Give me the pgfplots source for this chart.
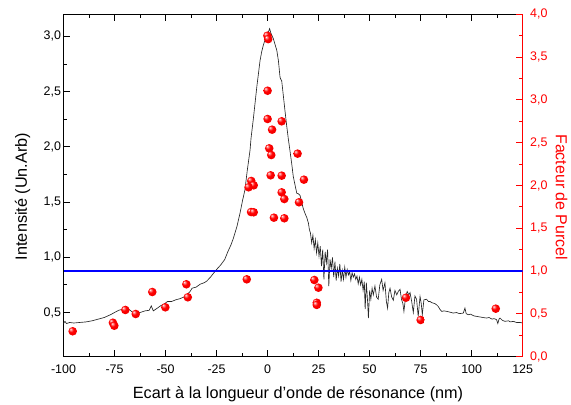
\documentclass[border=0pt]{standalone}
\usepackage{pgfplots}
\pgfplotsset{compat=1.18}
\usepackage{pgfplotstable}
\usepackage{fontspec}
\setmainfont{Liberation Sans}
\pgfdeclareradialshading{redballsh}{\pgfqpoint{-13bp}{13bp}}{%
 color(0bp)=(white); color(5bp)=(red!45!white); color(14bp)=(red); color(34bp)=(red!92!black); color(50bp)=(red!72!black)}
\pgfdeclareplotmark{redball}{%
  \pgfpathcircle{\pgfpointorigin}{\pgfplotmarksize}%
  \pgfshadepath{redballsh}{0}%
  \pgfusepath{}%
}

\pgfplotstableread{
x y
-100 0.40
-99.3 0.42
-98.5 0.40
-97 0.41
-95 0.405
-92 0.41
-89 0.415
-86 0.425
-83 0.44
-80 0.455
-77 0.48
-75 0.50
-73 0.52
-71 0.53
-69.5 0.52
-68 0.53
-66 0.50
-64 0.495
-62.5 0.50
-60 0.515
-58 0.52
-57 0.56
-56 0.515
-54 0.54
-52.5 0.56
-50.5 0.58
-49 0.60
-47 0.60
-45 0.615
-43 0.625
-41 0.64
-40 0.65
-38 0.69
-37 0.72
-35 0.73
-33 0.757
-31 0.77
-29.8 0.785
-28 0.82
-26.3 0.86
-24.5 0.90
-23 0.93
-21 0.98
-19.5 1.05
-18 1.11
-16.8 1.17
-15 1.28
-13.5 1.40
-12.2 1.52
-11.1 1.61
-10 1.78
-8.6 1.97
-8.1 2.08
-7 2.25
-6 2.42
-5.3 2.54
-4.5 2.66
-3.7 2.78
-2.9 2.86
-2.1 2.92
-1.2 2.97
-0.4 3.01
0.4 3.04
1.0 3.07
1.6 3.03
2.8 2.98
3.6 2.93
4.5 2.875
5.3 2.78
6.1 2.63
6.5 2.61
6.9 2.60
7.5 2.50
8.5 2.33
9.3 2.20
10.1 2.08
11 1.96
11.8 1.85
12.6 1.73
13.5 1.65
14.3 1.58
15.1 1.575
15.9 1.56
16.7 1.50
17.5 1.44
18.3 1.40
19.2 1.36
20.0 1.31
20.5 1.25
21.0 1.22
21.6 1.13
22.2 1.20
22.8 1.08
23.4 1.16
24.0 1.04
24.6 1.13
25.2 1.01
25.8 1.10
26.4 0.92
27.0 1.07
27.6 0.80
28.2 1.05
28.8 0.95
29.4 1.07
30.0 0.74
30.6 0.98
31.2 0.90
31.8 1.00
32.4 0.82
33.0 0.96
33.6 0.79
34.2 0.90
34.8 0.83
35.4 0.94
36.0 0.78
36.6 0.88
37.2 0.80
37.8 0.91
38.4 0.82
39.0 0.89
39.6 0.84
40.2 0.87
40.8 0.79
41.4 0.86
42.0 0.82
42.6 0.85
43.2 0.80
43.8 0.83
44.4 0.76
45.0 0.82
45.6 0.75
46.2 0.80
46.8 0.70
47.4 0.78
47.8 0.53
48.4 0.77
49.0 0.60
49.4 0.45
50.0 0.70
50.6 0.62
51.2 0.72
51.8 0.66
52.6 0.74
53.4 0.64
54.2 0.62
55.0 0.75
55.9 0.80
56.6 0.70
57.5 0.77
58.2 0.60
58.8 0.54
59.4 0.68
60.0 0.72
60.8 0.64
61.6 0.61
62.4 0.70
63.3 0.66
64.0 0.69
64.9 0.71
65.6 0.62
66.3 0.58
66.8 0.51
67.6 0.64
68.4 0.69
69.2 0.66
69.8 0.68
70.6 0.60
71.4 0.50
72.2 0.65
73.0 0.62
73.8 0.465
74.7 0.645
75.3 0.58
75.8 0.48
76.6 0.615
77.9 0.62
78.8 0.60
79.6 0.60
80.4 0.59
81.2 0.585
82.0 0.58
82.8 0.57
83.6 0.555
84.4 0.53
85.3 0.51
86.5 0.515
87.8 0.51
89.0 0.505
90.0 0.50
91.0 0.495
92.5 0.50
94.0 0.49
95.9 0.495
96.7 0.54
97.3 0.49
98.3 0.48
99.5 0.485
101 0.47
102.4 0.465
104 0.46
105.5 0.455
107.3 0.45
108.5 0.455
110 0.44
111 0.445
112.2 0.435
112.8 0.40
113.4 0.44
113.9 0.45
115 0.43
116.3 0.42
118 0.425
119 0.415
120.4 0.42
122 0.41
123.7 0.41
125 0.405
}\spectrum

\pgfplotstableread{
x y
-95.5 0.297
-75.8 0.397
-75.1 0.362
-69.7 0.546
-64.6 0.499
-56.5 0.756
-50.1 0.577
-39.8 0.846
-39.1 0.694
-10.2 0.904
-0.1 3.75
0.3 3.71
0.0 3.107
0.0 2.777
6.9 2.75
2.2 2.652
0.8 2.434
1.8 2.356
14.7 2.372
1.5 2.119
6.9 2.115
17.8 2.068
-8.0 2.053
-6.8 2.002
-9.3 1.979
6.9 1.92
8.2 1.842
15.4 1.804
-8.1 1.69
-6.8 1.687
3.1 1.624
8.2 1.617
22.9 0.896
24.9 0.806
24.1 0.63
24.1 0.605
67.8 0.689
75.0 0.429
111.8 0.561
}\purcell

\begin{document}
\begin{tikzpicture}
\path[use as bounding box] (-63.5bp,-48.3bp) rectangle (507.5bp,356.7bp);
\begin{axis}[
  at={(0,0)}, anchor=south west,
  scale only axis, width=459.2bp, height=342.4bp,
  xmin=-100, xmax=125, ymin=0.1, ymax=3.2,
  xtick={-100,-75,-50,-25,0,25,50,75,100,125},
  minor x tick num=1,
  ytick={0.5,1,1.5,2,2.5,3},
  minor y tick num=1,
  xtick pos=both, xticklabel pos=lower,
  ytick pos=left,
  tick align=inside,
  major tick length=6.5bp, minor tick length=3.5bp,
  tick style={black, line width=1bp},
  axis line style={line width=1.2bp},
  /pgf/number format/assume math mode=true,
  tick label style={font=\fontsize{12.5}{14}\selectfont},
  xticklabel style={yshift=-5bp},
  yticklabel style={xshift=1bp, /pgf/number format/.cd, fixed, fixed zerofill, precision=1, use comma},
  xlabel={Ecart à la longueur d'onde de résonance (nm)},
  ylabel={Intensité (Un.Arb)},
  xlabel style={at={(axis description cs:0.5107,-0.1235)}, anchor=base, font=\fontsize{16.3}{18}\selectfont},
  ylabel style={at={(axis description cs:-0.0795,0.468)}, anchor=base, font=\fontsize{16.3}{18}\selectfont},
]
\addplot[black!85, line width=0.65bp, mark=none] table[x=x, y=y] {\spectrum};
\end{axis}
\begin{axis}[
  at={(0,0)}, anchor=south west,
  scale only axis, width=459.2bp, height=342.4bp,
  xmin=-100, xmax=125, ymin=0, ymax=4,
  axis x line=none, axis y line*=right,
  ytick={0,0.5,1,1.5,2,2.5,3,3.5,4},
  minor y tick num=1,
  tick align=inside,
  major tick length=6.5bp, minor tick length=3.5bp,
  tick style={red, line width=1bp},
  y axis line style={-, red, line width=1.2bp},
  /pgf/number format/assume math mode=true,
  yticklabel style={red, xshift=4bp, font=\fontsize{12.5}{14}\selectfont, /pgf/number format/.cd, fixed, fixed zerofill, precision=1, use comma},
  ylabel={Facteur de Purcel},
  ylabel style={at={(axis description cs:1.0725,0.4657)}, anchor=base, rotate=180, red, font=\fontsize{16}{18}\selectfont},
]
\addplot[blue, line width=1.6bp, mark=none] coordinates {(-100,1) (125,1)};
\addplot[only marks, mark=redball, mark size=4.3bp] table[x=x, y=y] {\purcell};
\end{axis}
\end{tikzpicture}
\end{document}
